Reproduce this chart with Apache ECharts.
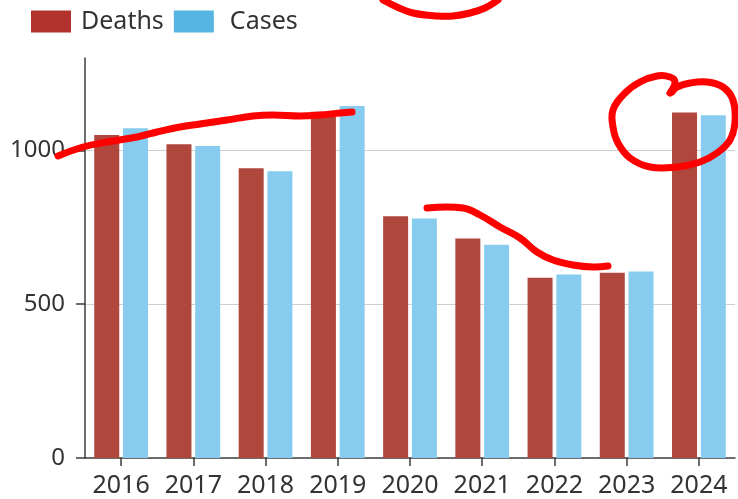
<!DOCTYPE html>
<html>
<head>
<meta charset="utf-8">
<script src="https://cdn.jsdelivr.net/npm/echarts@6/dist/echarts.min.js"></script>
<style>
html,body{margin:0;padding:0;background:#fff;}
#main{width:738px;height:499px;}
</style>
</head>
<body>
<div id="main"></div>
<script>
const years = ['2016','2017','2018','2019','2020','2021','2022','2023','2024'];
const deaths = [1050, 1020, 942, 1125, 786, 713, 586, 602, 1123];
const cases = [1072, 1014, 932, 1144, 778, 693, 596, 606, 1114];
const yTicks = [0, 500, 1000];

const FONT = '"Noto Sans", "Open Sans", sans-serif';
const TXT = '#333333';
const RED = '#ff0000';

const chart = echarts.init(document.getElementById('main'));

function pen(points) {
  return {
    type: 'polyline',
    silent: true,
    z: 100,
    shape: { points: points, smooth: 0.4 },
    style: { stroke: RED, lineWidth: 7, fill: null, lineCap: 'round', lineJoin: 'round' }
  };
}

chart.setOption({
  animation: false,
  backgroundColor: '#ffffff',
  textStyle: { fontFamily: FONT },
  legend: {
    left: 26,
    top: 4,
    itemWidth: 40,
    itemHeight: 22,
    itemGap: 10,
    icon: 'rect',
    textStyle: { fontFamily: FONT, fontSize: 25, color: TXT },
    data: [
      { name: 'Deaths', itemStyle: { color: '#b2322d' }, textStyle: { padding: [0, 0, 0, 5] } },
      { name: 'Cases', itemStyle: { color: '#57b5e3' }, textStyle: { padding: [0, 0, 0, 11] } }
    ]
  },
  grid: { left: 85, right: 3, top: 58, bottom: 41, containLabel: false, outerBoundsMode: 'none' },
  xAxis: {
    type: 'category',
    data: years,
    axisLine: { show: true, lineStyle: { color: '#3c3c3c', width: 1.5 } },
    axisTick: { show: true, alignWithLabel: true, interval: 0, length: 8, lineStyle: { color: '#3c3c3c', width: 1.5 } },
    axisLabel: { fontFamily: FONT, fontSize: 25, color: TXT, margin: 15, interval: 0, hideOverlap: false },
    splitLine: { show: false }
  },
  yAxis: {
    type: 'value',
    min: 0,
    max: 1300,
    interval: 500,
    axisLine: { show: true, lineStyle: { color: '#3c3c3c', width: 1.5 } },
    axisTick: { show: true, length: 9, customValues: yTicks, lineStyle: { color: '#3c3c3c', width: 1.5 } },
    axisLabel: { fontFamily: FONT, fontSize: 24, color: TXT, margin: 20, customValues: yTicks, formatter: function (v) { return String(v); } },
    splitLine: { show: true, showMinLine: false, lineStyle: { color: '#cfcfcf', width: 1 } }
  },
  series: [
    {
      name: 'Deaths',
      type: 'bar',
      data: deaths,
      barWidth: 25,
      barGap: '15%',
      itemStyle: { color: '#b0473d' }
    },
    {
      name: 'Cases',
      type: 'bar',
      data: cases,
      barWidth: 25,
      itemStyle: { color: '#87ccee' }
    }
  ],
  graphic: [
    pen([[58,156],[83,147],[107,142],[137,137],[157,132],[180,127],[200,124],[227,120],[253,116],[273,115],[300,116],[320,115],[340,113],[352,112]]),
    pen([[427,208],[463,208],[480,215],[500,227],[520,238],[537,252],[553,260],[573,265],[593,267],[608,266]]),
    pen([[670,93],[675,82],[670,77],[657,76],[640,82],[625,93],[613,110],[613,127],[618,143],[630,158],[650,167],[677,167],[700,162],[717,153],[730,140],[735,122],[733,100],[723,87],[707,82],[690,83],[677,87],[672,92]]),
    pen([[383,0],[397,7],[413,13],[437,16],[453,16],[470,13],[485,8],[498,0]])
  ]
});
</script>
</body>
</html>
